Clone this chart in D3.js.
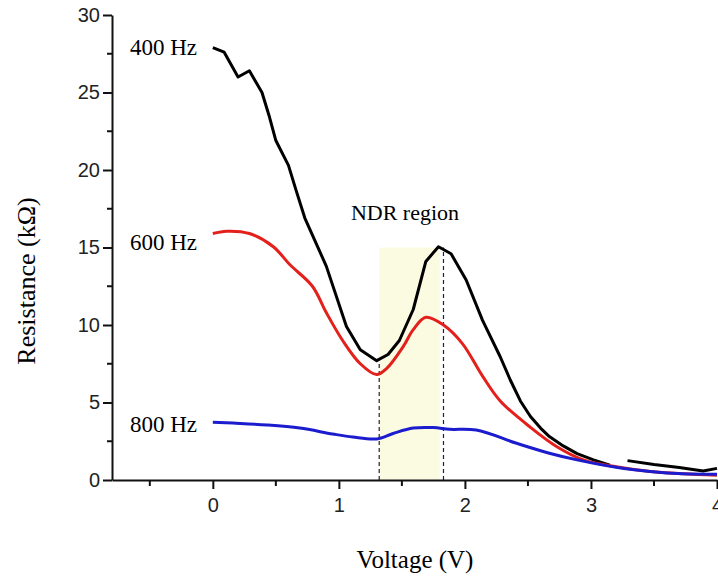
<!DOCTYPE html>
<html>
<head>
<meta charset="utf-8">
<script src="https://cdn.jsdelivr.net/npm/d3@7"></script>
<style>
    body { margin: 0; background: #fff; }
    svg { display: block; }
</style>
</head>
<body>
<div data-chart></div>
<script>
// voltage (V) / resistance (kOhm)
const v400 = [0, 0.09, 0.2, 0.29, 0.39, 0.45, 0.5, 0.6, 0.66, 0.73, 0.9, 1.06, 1.17, 1.3, 1.39, 1.48, 1.59, 1.69, 1.79, 1.89, 2.01, 2.14, 2.28, 2.36, 2.44, 2.52, 2.6, 2.67, 2.78, 2.89, 3.02, 3.15, null, 3.29, 3.5, 3.7, 3.89, 4.0]
const r400 = [27.9, 27.6, 26.0, 26.4, 25.0, 23.4, 21.9, 20.3, 18.7, 16.9, 13.8, 9.9, 8.4, 7.7, 8.1, 9.0, 11.0, 14.1, 15.05, 14.6, 12.9, 10.3, 7.95, 6.45, 5.1, 4.1, 3.35, 2.8, 2.2, 1.7, 1.3, 0.95, null, 1.25, 1.0, 0.8, 0.58, 0.75]

const v600 = [0, 0.11, 0.29, 0.48, 0.61, 0.79, 0.9, 1.03, 1.17, 1.3, 1.38, 1.51, 1.59, 1.69, 1.83, 1.98, 2.14, 2.28, 2.52, 2.73, 2.94, 3.2, 3.47, 3.73, 4.0]
const r600 = [15.9, 16.05, 15.9, 15.05, 13.9, 12.5, 10.8, 9.0, 7.5, 6.8, 7.2, 8.6, 9.7, 10.5, 10.0, 8.8, 6.7, 5.1, 3.4, 2.15, 1.3, 0.85, 0.55, 0.4, 0.3]

const v800 = [0, 0.16, 0.43, 0.69, 0.95, 1.11, 1.3, 1.43, 1.59, 1.75, 1.88, 2.09, 2.41, 2.67, 2.89, 3.2, 3.47, 3.73, 4.0]
const r800 = [3.73, 3.67, 3.55, 3.35, 2.97, 2.77, 2.65, 3.0, 3.35, 3.38, 3.27, 3.22, 2.37, 1.73, 1.3, 0.82, 0.55, 0.4, 0.37]

const seriesNames = ['400 Hz', '600 Hz', '800 Hz']
const seriesColors = ['#000000', '#e3201b', '#1c1ccf']

const xMajor = [0, 1, 2, 3, 4]
const xMinor = [-0.5, 0.5, 1.5, 2.5, 3.5]
const yMajor = [0, 5, 10, 15, 20, 25, 30]
const yMinor = [2.5, 7.5, 12.5, 17.5, 22.5, 27.5]

const ndrStart = 1.32, ndrEnd = 1.8, ndrPeakX = 1.83
const ndrMin = 7.7, ndrTop = 15.0

const width = 718, height = 583

const svg = d3.select('[data-chart]').append('svg')
    .attr('width', width)
    .attr('height', height)

const x = d3.scaleLinear().domain([-0.8, 4.0]).range([112, 717])
const y = d3.scaleLinear().domain([0, 30]).range([480, 15])

// shaded NDR band + dashed markers
svg.append('rect')
    .attr('x', x(ndrStart))
    .attr('y', y(ndrTop))
    .attr('width', x(ndrEnd) - x(ndrStart))
    .attr('height', y(0) - y(ndrTop))
    .attr('fill', '#fbfbe2')

svg.append('line')
    .attr('x1', x(ndrStart)).attr('x2', x(ndrStart))
    .attr('y1', y(0)).attr('y2', y(ndrMin))
    .attr('stroke', '#222').attr('stroke-width', 1.2)
    .attr('stroke-dasharray', '4,3')

svg.append('line')
    .attr('x1', x(ndrPeakX)).attr('x2', x(ndrPeakX))
    .attr('y1', y(0)).attr('y2', y(ndrTop))
    .attr('stroke', '#222').attr('stroke-width', 1.2)
    .attr('stroke-dasharray', '4,3')

svg.append('text')
    .attr('x', 405).attr('y', 220)
    .attr('text-anchor', 'middle')
    .style('font-family', '"Liberation Serif", "Times New Roman", serif')
    .style('font-size', '22px')
    .text('NDR region')

// curves: the 400 Hz trace is a plain polyline, the others look smoothed
const lineFor = curve => d3.line()
    .defined(d => d[0] != null)
    .curve(curve)
    .x(d => x(d[0]))
    .y(d => y(d[1]))

const series = [
    d3.zip(v400, r400),
    d3.zip(v600, r600),
    d3.zip(v800, r800)
]
const curves = [d3.curveLinear, d3.curveCatmullRom.alpha(0.5), d3.curveCatmullRom.alpha(0.5)]

// black under red under blue, as at the low-resistance tail of the original
series.forEach((s, i) => {
    svg.append('path')
        .datum(s)
        .attr('fill', 'none')
        .attr('stroke', seriesColors[i])
        .attr('stroke-width', 3)
        .attr('stroke-linejoin', 'round')
        .attr('d', lineFor(curves[i]))
})

// series labels
const labelY = [r400[0], r600[0] - 0.6, r800[0] - 0.2]
seriesNames.forEach((name, i) => {
    svg.append('text')
        .attr('x', 197)
        .attr('y', y(labelY[i]) + 7)
        .attr('text-anchor', 'end')
        .style('font-family', '"Liberation Serif", "Times New Roman", serif')
        .style('font-size', '23px')
        .text(name)
})

// x axis
const xAxis = svg.append('g').attr('transform', `translate(0,${y(0)})`)
xAxis.call(d3.axisBottom(x).tickValues(xMajor).tickSize(9).tickSizeOuter(0).tickPadding(9).tickFormat(d3.format('d')))
xMinor.forEach(d => {
    xAxis.append('line')
        .attr('x1', x(d)).attr('x2', x(d))
        .attr('y1', 0).attr('y2', 6)
        .attr('stroke', '#111').attr('stroke-width', 2)
})

// y axis
const yAxis = svg.append('g').attr('transform', `translate(${x(-0.8)},0)`)
yAxis.call(d3.axisLeft(y).tickValues(yMajor).tickSize(9).tickSizeOuter(0).tickPadding(3))
yMinor.forEach(d => {
    yAxis.append('line')
        .attr('x1', -5).attr('x2', 0)
        .attr('y1', y(d)).attr('y2', y(d))
        .attr('stroke', '#111').attr('stroke-width', 2)
})

svg.selectAll('.domain').attr('stroke', '#111').attr('stroke-width', 2)
svg.selectAll('.tick line').attr('stroke', '#111').attr('stroke-width', 2)
svg.selectAll('.tick text')
    .style('font-family', '"Liberation Sans", Arial, sans-serif')
    .style('font-size', '20px')
    .attr('fill', '#222')

// axis titles
svg.append('text')
    .attr('x', 415).attr('y', 568)
    .attr('text-anchor', 'middle')
    .style('font-family', '"Liberation Serif", "Times New Roman", serif')
    .style('font-size', '25px')
    .text('Voltage (V)')

svg.append('text')
    .attr('transform', 'translate(35,281)rotate(-90)')
    .attr('text-anchor', 'middle')
    .style('font-family', '"Liberation Serif", "Times New Roman", serif')
    .style('font-size', '26px')
    .text('Resistance (kΩ)')
</script>
</body>
</html>
